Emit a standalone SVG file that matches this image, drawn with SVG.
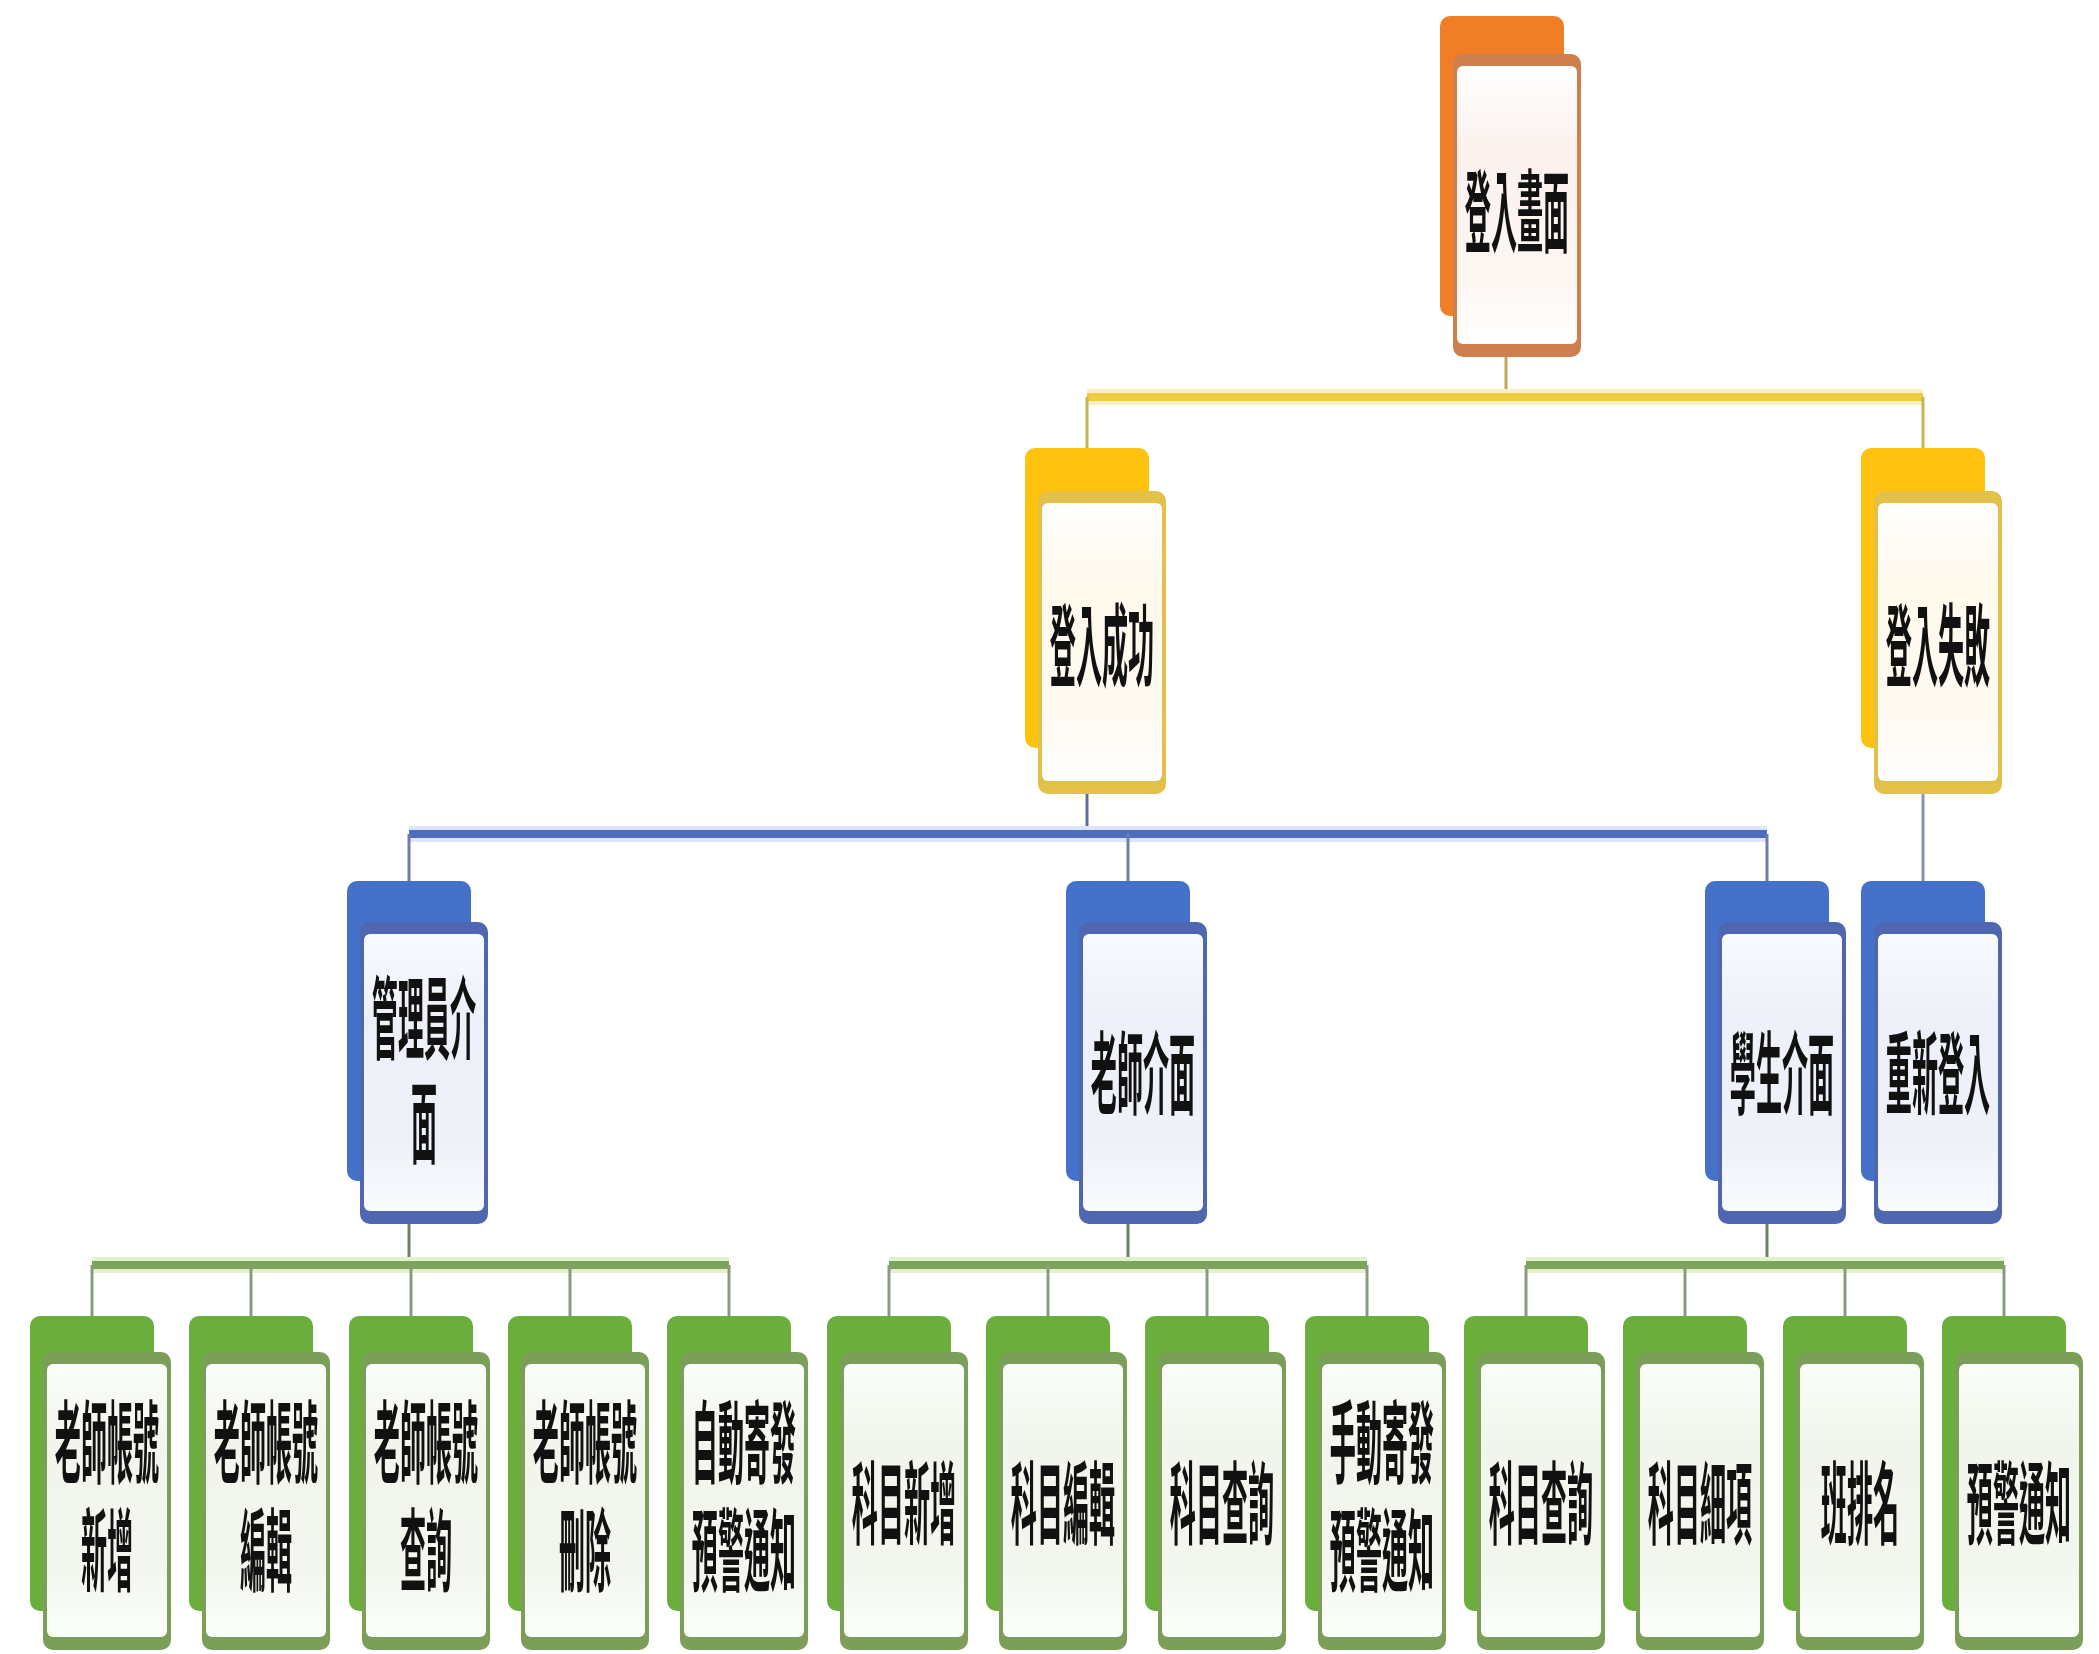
<svg xmlns="http://www.w3.org/2000/svg" width="2099" height="1654" viewBox="0 0 2099 1654">
<style>
  .lbl { font-family: "Liberation Sans", "Noto Sans CJK TC", "Noto Sans CJK SC", sans-serif; font-size: 90px; font-weight: 700; fill: #111; text-anchor: middle; }
  .bk0 { fill: #F07E26; } .fb0 { fill: #CD7F4E; } .fi0 { fill: url(#g0); }
  .bk1 { fill: #FFC20E; } .fb1 { fill: #E3C04A; } .fi1 { fill: url(#g1); }
  .bk2 { fill: #4571C9; } .fb2 { fill: #4F66B0; } .fi2 { fill: url(#g2); }
  .bk3 { fill: #6BAE3C; } .fb3 { fill: #7B9E58; } .fi3 { fill: url(#g3); }
  .bar { fill: none; stroke-width: 8; }
  .halo { fill: none; stroke-width: 16; }
  .drop { fill: none; stroke-width: 3; }
</style>
<defs>
  <linearGradient id="g0" x1="0" y1="0" x2="0" y2="1"><stop offset="0" stop-color="#FFFFFF"/><stop offset="0.3" stop-color="#FBF1EE"/><stop offset="0.75" stop-color="#FDF6F2"/><stop offset="1" stop-color="#FFFFFF"/></linearGradient>
  <linearGradient id="g1" x1="0" y1="0" x2="0" y2="1"><stop offset="0" stop-color="#FFFFFF"/><stop offset="0.3" stop-color="#FFF9EC"/><stop offset="0.75" stop-color="#FFFAF0"/><stop offset="1" stop-color="#FFFFFF"/></linearGradient>
  <linearGradient id="g2" x1="0" y1="0" x2="0" y2="1"><stop offset="0" stop-color="#F7FAFF"/><stop offset="0.3" stop-color="#EDF0F8"/><stop offset="0.75" stop-color="#EEF1F8"/><stop offset="1" stop-color="#FAFBFF"/></linearGradient>
  <linearGradient id="g3" x1="0" y1="0" x2="0" y2="1"><stop offset="0" stop-color="#FBFDF8"/><stop offset="0.3" stop-color="#F1F5EC"/><stop offset="0.75" stop-color="#F2F6EE"/><stop offset="1" stop-color="#FCFEFA"/></linearGradient>
</defs>
<rect x="0" y="0" width="2099" height="1654" fill="#FFFFFF"/>

<g id="connectors">
  <line class="drop" x1="1506" y1="357" x2="1506" y2="397" stroke="#BFA55E"/>
  <line class="halo" x1="1087" y1="397" x2="1923" y2="397" stroke="#FBF0C2"/>
  <line class="bar" x1="1087" y1="397" x2="1923" y2="397" stroke="#EECB45"/>
  <line class="drop" x1="1087" y1="397" x2="1087" y2="448" stroke="#C9B25A"/>
  <line class="drop" x1="1923" y1="397" x2="1923" y2="448" stroke="#C9B25A"/>

  <line class="drop" x1="1087" y1="794" x2="1087" y2="834" stroke="#5B6E9E"/>
  <line class="halo" x1="409" y1="834" x2="1767" y2="834" stroke="#DCE6F8"/>
  <line class="bar" x1="409" y1="834" x2="1767" y2="834" stroke="#4D6DBE"/>
  <line class="drop" x1="409" y1="834" x2="409" y2="881" stroke="#6D7FA8"/>
  <line class="drop" x1="1128" y1="834" x2="1128" y2="881" stroke="#6D7FA8"/>
  <line class="drop" x1="1767" y1="834" x2="1767" y2="881" stroke="#6D7FA8"/>
  <line class="drop" x1="1923" y1="794" x2="1923" y2="881" stroke="#8193BE"/>

  <line class="drop" x1="409" y1="1224" x2="409" y2="1265" stroke="#6F8060"/>
  <line class="halo" x1="92" y1="1265" x2="729" y2="1265" stroke="#E2F2CC"/>
  <line class="bar" x1="92" y1="1265" x2="729" y2="1265" stroke="#7DA35A"/>
  <line class="drop" x1="92" y1="1265" x2="92" y2="1316" stroke="#8A9A7C"/>
  <line class="drop" x1="251" y1="1265" x2="251" y2="1316" stroke="#8A9A7C"/>
  <line class="drop" x1="411" y1="1265" x2="411" y2="1316" stroke="#8A9A7C"/>
  <line class="drop" x1="570" y1="1265" x2="570" y2="1316" stroke="#8A9A7C"/>
  <line class="drop" x1="729" y1="1265" x2="729" y2="1316" stroke="#8A9A7C"/>

  <line class="drop" x1="1128" y1="1224" x2="1128" y2="1265" stroke="#6F8060"/>
  <line class="halo" x1="889" y1="1265" x2="1367" y2="1265" stroke="#E2F2CC"/>
  <line class="bar" x1="889" y1="1265" x2="1367" y2="1265" stroke="#7DA35A"/>
  <line class="drop" x1="889" y1="1265" x2="889" y2="1316" stroke="#8A9A7C"/>
  <line class="drop" x1="1048" y1="1265" x2="1048" y2="1316" stroke="#8A9A7C"/>
  <line class="drop" x1="1207" y1="1265" x2="1207" y2="1316" stroke="#8A9A7C"/>
  <line class="drop" x1="1367" y1="1265" x2="1367" y2="1316" stroke="#8A9A7C"/>

  <line class="drop" x1="1767" y1="1224" x2="1767" y2="1265" stroke="#6F8060"/>
  <line class="halo" x1="1526" y1="1265" x2="2004" y2="1265" stroke="#E2F2CC"/>
  <line class="bar" x1="1526" y1="1265" x2="2004" y2="1265" stroke="#7DA35A"/>
  <line class="drop" x1="1526" y1="1265" x2="1526" y2="1316" stroke="#8A9A7C"/>
  <line class="drop" x1="1685" y1="1265" x2="1685" y2="1316" stroke="#8A9A7C"/>
  <line class="drop" x1="1845" y1="1265" x2="1845" y2="1316" stroke="#8A9A7C"/>
  <line class="drop" x1="2004" y1="1265" x2="2004" y2="1316" stroke="#8A9A7C"/>
</g>

<g id="n-root">
  <rect class="bk0" x="1440" y="16" width="124" height="300" rx="10"/>
  <rect class="fb0" x="1453" y="54" width="128" height="303" rx="10"/>
  <rect class="fi0" x="1457" y="66" width="120" height="278" rx="6"/>
  <text class="lbl" transform="translate(1517,211) scale(0.29,1)" y="34">登入畫面</text>
</g>

<g id="n-success">
  <rect class="bk1" x="1025" y="448" width="124" height="300" rx="10"/>
  <rect class="fb1" x="1038" y="491" width="128" height="303" rx="10"/>
  <rect class="fi1" x="1042" y="503" width="120" height="278" rx="6"/>
  <text class="lbl" transform="translate(1102,645) scale(0.29,1)" y="34">登入成功</text>
</g>

<g id="n-fail">
  <rect class="bk1" x="1861" y="448" width="124" height="300" rx="10"/>
  <rect class="fb1" x="1874" y="491" width="128" height="303" rx="10"/>
  <rect class="fi1" x="1878" y="503" width="120" height="278" rx="6"/>
  <text class="lbl" transform="translate(1938,645) scale(0.29,1)" y="34">登入失敗</text>
</g>

<g id="n-admin">
  <rect class="bk2" x="347" y="881" width="124" height="300" rx="10"/>
  <rect class="fb2" x="360" y="922" width="128" height="302" rx="10"/>
  <rect class="fi2" x="364" y="934" width="120" height="277" rx="6"/>
  <text class="lbl" transform="translate(424,1018) scale(0.29,1)" y="34">管理員介</text>
  <text class="lbl" transform="translate(424,1122) scale(0.29,1)" y="34">面</text>
</g>

<g id="n-teacher">
  <rect class="bk2" x="1066" y="881" width="124" height="300" rx="10"/>
  <rect class="fb2" x="1079" y="922" width="128" height="302" rx="10"/>
  <rect class="fi2" x="1083" y="934" width="120" height="277" rx="6"/>
  <text class="lbl" transform="translate(1143,1073) scale(0.29,1)" y="34">老師介面</text>
</g>

<g id="n-student">
  <rect class="bk2" x="1705" y="881" width="124" height="300" rx="10"/>
  <rect class="fb2" x="1718" y="922" width="128" height="302" rx="10"/>
  <rect class="fi2" x="1722" y="934" width="120" height="277" rx="6"/>
  <text class="lbl" transform="translate(1782,1073) scale(0.29,1)" y="34">學生介面</text>
</g>

<g id="n-relogin">
  <rect class="bk2" x="1861" y="881" width="124" height="300" rx="10"/>
  <rect class="fb2" x="1874" y="922" width="128" height="302" rx="10"/>
  <rect class="fi2" x="1878" y="934" width="120" height="277" rx="6"/>
  <text class="lbl" transform="translate(1938,1073) scale(0.29,1)" y="34">重新登入</text>
</g>

<g id="n-leaf0">
  <rect class="bk3" x="30" y="1316" width="124" height="295" rx="10"/>
  <rect class="fb3" x="43" y="1352" width="128" height="298" rx="10"/>
  <rect class="fi3" x="47" y="1364" width="120" height="273" rx="6"/>
  <text class="lbl" transform="translate(107,1442) scale(0.29,1)" y="34">老師帳號</text>
  <text class="lbl" transform="translate(107,1550) scale(0.29,1)" y="34">新增</text>
</g>
<g id="n-leaf1">
  <rect class="bk3" x="189" y="1316" width="124" height="295" rx="10"/>
  <rect class="fb3" x="202" y="1352" width="128" height="298" rx="10"/>
  <rect class="fi3" x="206" y="1364" width="120" height="273" rx="6"/>
  <text class="lbl" transform="translate(266,1442) scale(0.29,1)" y="34">老師帳號</text>
  <text class="lbl" transform="translate(266,1550) scale(0.29,1)" y="34">編輯</text>
</g>
<g id="n-leaf2">
  <rect class="bk3" x="349" y="1316" width="124" height="295" rx="10"/>
  <rect class="fb3" x="362" y="1352" width="128" height="298" rx="10"/>
  <rect class="fi3" x="366" y="1364" width="120" height="273" rx="6"/>
  <text class="lbl" transform="translate(426,1442) scale(0.29,1)" y="34">老師帳號</text>
  <text class="lbl" transform="translate(426,1550) scale(0.29,1)" y="34">查詢</text>
</g>
<g id="n-leaf3">
  <rect class="bk3" x="508" y="1316" width="124" height="295" rx="10"/>
  <rect class="fb3" x="521" y="1352" width="128" height="298" rx="10"/>
  <rect class="fi3" x="525" y="1364" width="120" height="273" rx="6"/>
  <text class="lbl" transform="translate(585,1442) scale(0.29,1)" y="34">老師帳號</text>
  <text class="lbl" transform="translate(585,1550) scale(0.29,1)" y="34">刪除</text>
</g>
<g id="n-leaf4">
  <rect class="bk3" x="667" y="1316" width="124" height="295" rx="10"/>
  <rect class="fb3" x="680" y="1352" width="128" height="298" rx="10"/>
  <rect class="fi3" x="684" y="1364" width="120" height="273" rx="6"/>
  <text class="lbl" transform="translate(744,1442) scale(0.29,1)" y="34">自動寄發</text>
  <text class="lbl" transform="translate(744,1550) scale(0.29,1)" y="34">預警通知</text>
</g>
<g id="n-leaf5">
  <rect class="bk3" x="827" y="1316" width="124" height="295" rx="10"/>
  <rect class="fb3" x="840" y="1352" width="128" height="298" rx="10"/>
  <rect class="fi3" x="844" y="1364" width="120" height="273" rx="6"/>
  <text class="lbl" transform="translate(904,1503) scale(0.29,1)" y="34">科目新增</text>
</g>
<g id="n-leaf6">
  <rect class="bk3" x="986" y="1316" width="124" height="295" rx="10"/>
  <rect class="fb3" x="999" y="1352" width="128" height="298" rx="10"/>
  <rect class="fi3" x="1003" y="1364" width="120" height="273" rx="6"/>
  <text class="lbl" transform="translate(1063,1503) scale(0.29,1)" y="34">科目編輯</text>
</g>
<g id="n-leaf7">
  <rect class="bk3" x="1145" y="1316" width="124" height="295" rx="10"/>
  <rect class="fb3" x="1158" y="1352" width="128" height="298" rx="10"/>
  <rect class="fi3" x="1162" y="1364" width="120" height="273" rx="6"/>
  <text class="lbl" transform="translate(1222,1503) scale(0.29,1)" y="34">科目查詢</text>
</g>
<g id="n-leaf8">
  <rect class="bk3" x="1305" y="1316" width="124" height="295" rx="10"/>
  <rect class="fb3" x="1318" y="1352" width="128" height="298" rx="10"/>
  <rect class="fi3" x="1322" y="1364" width="120" height="273" rx="6"/>
  <text class="lbl" transform="translate(1382,1442) scale(0.29,1)" y="34">手動寄發</text>
  <text class="lbl" transform="translate(1382,1550) scale(0.29,1)" y="34">預警通知</text>
</g>
<g id="n-leaf9">
  <rect class="bk3" x="1464" y="1316" width="124" height="295" rx="10"/>
  <rect class="fb3" x="1477" y="1352" width="128" height="298" rx="10"/>
  <rect class="fi3" x="1481" y="1364" width="120" height="273" rx="6"/>
  <text class="lbl" transform="translate(1541,1503) scale(0.29,1)" y="34">科目查詢</text>
</g>
<g id="n-leaf10">
  <rect class="bk3" x="1623" y="1316" width="124" height="295" rx="10"/>
  <rect class="fb3" x="1636" y="1352" width="128" height="298" rx="10"/>
  <rect class="fi3" x="1640" y="1364" width="120" height="273" rx="6"/>
  <text class="lbl" transform="translate(1700,1503) scale(0.29,1)" y="34">科目細項</text>
</g>
<g id="n-leaf11">
  <rect class="bk3" x="1783" y="1316" width="124" height="295" rx="10"/>
  <rect class="fb3" x="1796" y="1352" width="128" height="298" rx="10"/>
  <rect class="fi3" x="1800" y="1364" width="120" height="273" rx="6"/>
  <text class="lbl" transform="translate(1860,1503) scale(0.29,1)" y="34">班排名</text>
</g>
<g id="n-leaf12">
  <rect class="bk3" x="1942" y="1316" width="124" height="295" rx="10"/>
  <rect class="fb3" x="1955" y="1352" width="128" height="298" rx="10"/>
  <rect class="fi3" x="1959" y="1364" width="120" height="273" rx="6"/>
  <text class="lbl" transform="translate(2019,1503) scale(0.29,1)" y="34">預警通知</text>
</g>
</svg>
